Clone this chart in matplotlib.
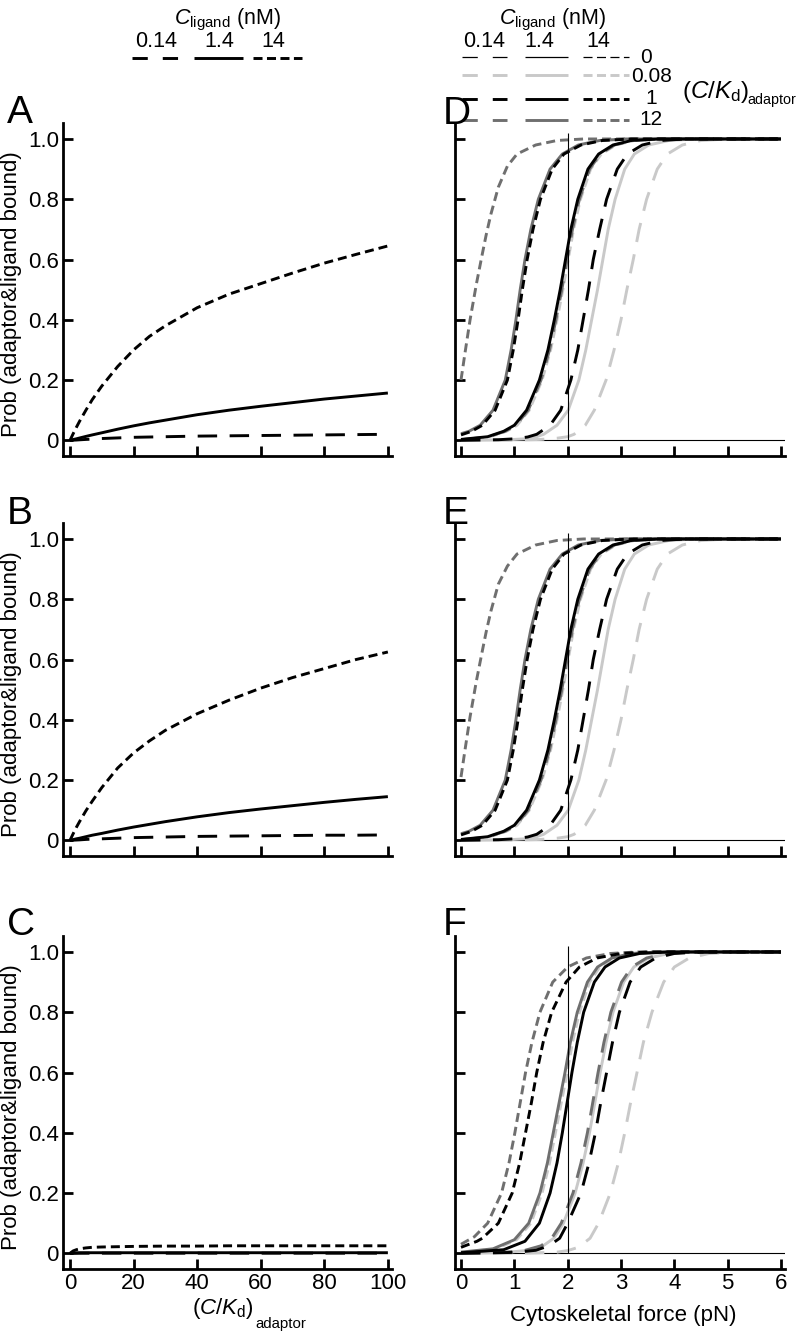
import matplotlib
matplotlib.use('Agg')
import matplotlib.pyplot as plt

plt.rcParams['font.family'] = ['Liberation Sans', 'DejaVu Sans']
plt.rcParams['mathtext.fontset'] = 'custom'
plt.rcParams['mathtext.rm'] = 'Liberation Sans'
plt.rcParams['mathtext.it'] = 'Liberation Sans:italic'
plt.rcParams['mathtext.bf'] = 'Liberation Sans:bold'
plt.rcParams['lines.scale_dashes'] = False

# ---------------- data: left panels (x = (C/Kd)_adaptor) ----------------
CK_X = [0, 1, 2, 3, 5, 7, 10, 15, 20, 25, 30, 40, 50, 60, 70, 80, 90, 100]
A_LIG014 = [0, 0.0005, 0.001, 0.0017, 0.003, 0.004, 0.006, 0.008, 0.010, 0.011, 0.012,
            0.014, 0.015, 0.016, 0.017, 0.018, 0.019, 0.020]
A_LIG1_4 = [0, 0.0027, 0.005, 0.0077, 0.013, 0.018, 0.025, 0.037, 0.048, 0.058, 0.067,
            0.085, 0.100, 0.113, 0.125, 0.137, 0.147, 0.157]
A_LIG14 = [0, 0.022, 0.043, 0.063, 0.100, 0.135, 0.180, 0.245, 0.300, 0.345, 0.380,
           0.440, 0.485, 0.520, 0.555, 0.588, 0.617, 0.645]
B_LIG014 = [0, 0.0005, 0.001, 0.0015, 0.003, 0.004, 0.005, 0.007, 0.009, 0.010, 0.011,
            0.013, 0.014, 0.015, 0.016, 0.017, 0.017, 0.018]
B_LIG1_4 = [0, 0.0025, 0.005, 0.007, 0.012, 0.017, 0.023, 0.034, 0.044, 0.053, 0.062,
            0.078, 0.092, 0.104, 0.115, 0.126, 0.136, 0.145]
B_LIG14 = [0, 0.022, 0.043, 0.062, 0.098, 0.130, 0.175, 0.240, 0.290, 0.330, 0.365,
           0.420, 0.465, 0.505, 0.540, 0.570, 0.600, 0.625]
C_LIG014 = [0, 0.0001, 0.0002, 0.0003, 0.0004, 0.0005, 0.0005, 0.0005, 0.0005, 0.0005, 0.0005,
            0.0005, 0.0005, 0.0005, 0.0005, 0.0005, 0.0005, 0.0005]
C_LIG1_4 = [0, 0.001, 0.0015, 0.002, 0.002, 0.002, 0.002, 0.002, 0.002, 0.002, 0.002,
            0.002, 0.002, 0.002, 0.002, 0.002, 0.002, 0.002]
C_LIG14 = [0, 0.008, 0.012, 0.015, 0.018, 0.020, 0.021, 0.022, 0.023, 0.0235, 0.024,
           0.024, 0.025, 0.025, 0.025, 0.025, 0.025, 0.025]

# ---------------- data: right panels (force pN, probability) ----------------
P_STD = [0.10, 0.20, 0.30, 0.40, 0.50, 0.60, 0.70, 0.80, 0.90, 0.95, 0.98, 0.995, 1.0, 1.0]

# Panel D
D_F_12_14 = [0, 0.075, 0.17, 0.29, 0.39, 0.47, 0.56, 0.70, 0.87, 1.05, 1.40, 1.80, 2.30, 6.0]
D_P_12_14 = [0.20, 0.29, 0.40, 0.52, 0.61, 0.68, 0.75, 0.84, 0.91, 0.95, 0.98, 0.995, 1.0, 1.0]
D_F_12_1_4 = [0, 0.15, 0.36, 0.60, 0.83, 0.94, 1.03, 1.11, 1.20, 1.31, 1.45, 1.67, 1.90, 2.20, 2.60, 3.10, 6.0]
D_P_12_1_4 = [0.022, 0.03, 0.05] + P_STD
D_F_1_14 = [0, 0.20, 0.40, 0.64, 0.87, 0.98, 1.07, 1.15, 1.24, 1.35, 1.49, 1.71, 1.93, 2.25, 2.65, 3.20, 6.0]
D_P_1_14 = [0.018, 0.03, 0.05] + P_STD
D_F_1_1_4 = [0, 0.5, 0.8, 1.00, 1.23, 1.47, 1.63, 1.75, 1.86, 1.96, 2.06, 2.19, 2.38, 2.58, 2.85, 3.20, 3.70, 6.0]
D_P_1_1_4 = [0.003, 0.012, 0.03, 0.05] + P_STD
D_F_12_014 = [0, 0.5, 0.83, 1.03, 1.26, 1.50, 1.66, 1.78, 1.89, 1.99, 2.09, 2.22, 2.41, 2.61, 2.88, 3.23, 3.75, 6.0]
D_P_12_014 = [0.002, 0.011, 0.03, 0.05] + P_STD
D_F_008_14 = [0, 0.5, 0.85, 1.05, 1.28, 1.52, 1.68, 1.80, 1.91, 2.01, 2.11, 2.24, 2.43, 2.63, 2.90, 3.25, 3.80, 6.0]
D_P_008_14 = [0.002, 0.010, 0.03, 0.05] + P_STD
D_F_1_014 = [0, 0.7, 1.0, 1.25, 1.42, 1.67, 1.87, 2.06, 2.19, 2.29, 2.39, 2.48, 2.60, 2.73, 2.93, 3.12, 3.40, 3.75, 4.20, 6.0]
D_P_1_014 = [0, 0.002, 0.005, 0.011, 0.02, 0.05] + P_STD
D_F_008_1_4 = [0, 0.9, 1.2, 1.4, 1.55, 1.80, 2.01, 2.21, 2.34, 2.45, 2.56, 2.66, 2.76, 2.89, 3.07, 3.25, 3.52, 3.90, 4.40, 6.0]
D_P_008_1_4 = [0, 0.002, 0.005, 0.011, 0.02, 0.05] + P_STD
D_F_008_014 = [0, 1.0, 1.5, 1.8, 2.0, 2.12, 2.33, 2.50, 2.72, 2.87, 3.00, 3.11, 3.23, 3.34, 3.48, 3.68, 3.87, 4.15, 4.50, 5.00, 6.0]
D_P_008_014 = [0, 0.0008, 0.003, 0.007, 0.012, 0.02, 0.05] + P_STD

# Panel E
E_F_12_14 = [0, 0.075, 0.17, 0.29, 0.39, 0.47, 0.56, 0.70, 0.87, 1.05, 1.40, 1.80, 2.30, 6.0]
E_P_12_14 = [0.21, 0.30, 0.41, 0.53, 0.62, 0.69, 0.76, 0.85, 0.91, 0.95, 0.98, 0.995, 1.0, 1.0]
E_F_12_1_4 = [0, 0.15, 0.36, 0.60, 0.83, 0.94, 1.03, 1.11, 1.20, 1.31, 1.45, 1.67, 1.90, 2.20, 2.60, 3.10, 6.0]
E_P_12_1_4 = [0.022, 0.03, 0.05] + P_STD
E_F_1_14 = [0, 0.20, 0.40, 0.64, 0.87, 0.98, 1.07, 1.15, 1.24, 1.35, 1.49, 1.71, 1.93, 2.25, 2.65, 3.20, 6.0]
E_P_1_14 = [0.018, 0.03, 0.05] + P_STD
E_F_1_1_4 = [0, 0.5, 0.8, 1.00, 1.23, 1.47, 1.63, 1.75, 1.86, 1.96, 2.06, 2.19, 2.38, 2.58, 2.85, 3.20, 3.70, 6.0]
E_P_1_1_4 = [0.003, 0.012, 0.03, 0.05] + P_STD
E_F_12_014 = [0, 0.5, 0.83, 1.03, 1.26, 1.50, 1.66, 1.78, 1.89, 1.99, 2.09, 2.22, 2.41, 2.61, 2.88, 3.23, 3.75, 6.0]
E_P_12_014 = [0.002, 0.011, 0.03, 0.05] + P_STD
E_F_008_14 = [0, 0.5, 0.85, 1.05, 1.28, 1.52, 1.68, 1.80, 1.91, 2.01, 2.11, 2.24, 2.43, 2.63, 2.90, 3.25, 3.80, 6.0]
E_P_008_14 = [0.002, 0.010, 0.03, 0.05] + P_STD
E_F_1_014 = [0, 0.7, 1.0, 1.25, 1.42, 1.67, 1.87, 2.06, 2.19, 2.29, 2.39, 2.48, 2.60, 2.73, 2.93, 3.12, 3.40, 3.75, 4.20, 6.0]
E_P_1_014 = [0, 0.002, 0.005, 0.011, 0.02, 0.05] + P_STD
E_F_008_1_4 = [0, 0.9, 1.2, 1.4, 1.55, 1.80, 2.01, 2.21, 2.34, 2.45, 2.56, 2.66, 2.76, 2.89, 3.07, 3.25, 3.52, 3.90, 4.40, 6.0]
E_P_008_1_4 = [0, 0.002, 0.005, 0.011, 0.02, 0.05] + P_STD
E_F_008_014 = [0, 1.0, 1.5, 1.8, 2.0, 2.12, 2.33, 2.50, 2.72, 2.87, 3.00, 3.11, 3.23, 3.34, 3.48, 3.68, 3.87, 4.15, 4.50, 5.00, 6.0]
E_P_008_014 = [0, 0.0008, 0.003, 0.007, 0.012, 0.02, 0.05] + P_STD

# Panel F
F_F_12_14 = [0, 0.25, 0.50, 0.76, 0.90, 1.01, 1.11, 1.21, 1.33, 1.48, 1.72, 2.00, 2.35, 2.80, 3.30, 6.0]
F_P_12_14 = [0.03, 0.055] + P_STD
F_F_1_14 = [0, 0.30, 0.40, 0.70, 0.96, 1.10, 1.21, 1.32, 1.42, 1.54, 1.70, 1.97, 2.22, 2.55, 3.00, 3.50, 6.0]
F_P_1_14 = [0.02, 0.04, 0.05] + P_STD
F_F_12_1_4 = [0, 0.6, 1.0, 1.27, 1.48, 1.62, 1.73, 1.84, 1.95, 2.05, 2.18, 2.37, 2.56, 2.83, 3.20, 3.70, 6.0]
F_P_12_1_4 = [0.004, 0.015, 0.045] + P_STD
F_F_008_14 = [0, 0.65, 1.04, 1.31, 1.52, 1.66, 1.77, 1.88, 1.99, 2.09, 2.22, 2.41, 2.60, 2.87, 3.25, 3.75, 6.0]
F_P_008_14 = [0.003, 0.014, 0.045] + P_STD
F_F_1_1_4 = [0, 0.8, 1.2, 1.47, 1.67, 1.80, 1.90, 1.99, 2.08, 2.18, 2.30, 2.50, 2.70, 2.97, 3.35, 3.90, 6.0]
F_P_1_1_4 = [0.002, 0.012, 0.04] + P_STD
F_F_12_014 = [0, 0.8, 1.2, 1.50, 1.70, 1.88, 2.10, 2.25, 2.37, 2.47, 2.57, 2.68, 2.81, 3.01, 3.20, 3.48, 3.85, 4.30, 6.0]
F_P_12_014 = [0, 0.003, 0.01, 0.025, 0.05] + P_STD
F_F_008_1_4 = [0, 0.85, 1.25, 1.54, 1.74, 1.92, 2.14, 2.29, 2.41, 2.51, 2.61, 2.72, 2.85, 3.05, 3.24, 3.52, 3.90, 4.35, 6.0]
F_P_008_1_4 = [0, 0.003, 0.01, 0.025, 0.05] + P_STD
F_F_1_014 = [0, 1.0, 1.4, 1.65, 1.85, 2.00, 2.25, 2.40, 2.52, 2.62, 2.73, 2.84, 2.97, 3.17, 3.37, 3.65, 4.00, 4.50, 6.0]
F_P_1_014 = [0, 0.003, 0.01, 0.025, 0.05] + P_STD
F_F_008_014 = [0, 1.3, 1.8, 2.0, 2.2, 2.42, 2.58, 2.80, 2.95, 3.07, 3.18, 3.30, 3.42, 3.58, 3.80, 4.00, 4.28, 4.65, 5.20, 6.0]
F_P_008_014 = [0, 0.001, 0.004, 0.009, 0.02, 0.05] + P_STD

LIGANDS = ['0.14', '1.4', '14']
CK_LEVELS = ['0', '0.08', '1', '12']
Y_TICKS = [0, 0.2, 0.4, 0.6, 0.8, 1.0]
Y_TICKLABELS = ['0', '0.2', '0.4', '0.6', '0.8', '1.0']
CK_TICKS = [0, 20, 40, 60, 80, 100]
FORCE_TICKS = [0, 1, 2, 3, 4, 5, 6]
FORCE_REF = 2.0

# ---------------- styles ----------------
LONG = (0, (14, 9))
SHORT = (0, (6.5, 3.6))
LS = {'0.14': LONG, '1.4': '-', '14': SHORT}
COL = {'0': 'black', '0.08': '#c9c9c9', '1': 'black', '12': '#6f6f6f'}
ZO = {'0': 5, '0.08': 2, '1': 4, '12': 3}
LW = 2.1

W, H = 796, 1332
fig = plt.figure(figsize=(W / 100, H / 100), dpi=100)


def add_ax(l, t, r, b):
    return fig.add_axes([l / W, 1 - b / H, (r - l) / W, (b - t) / H])


def style(ax):
    for s in ['top', 'right']:
        ax.spines[s].set_visible(False)
    for s in ['left', 'bottom']:
        ax.spines[s].set_linewidth(2.0)
    ax.tick_params(direction='in', length=7, width=2, labelsize=16, pad=3)
    ax.set_ylim(-0.052, 1.053)
    ax.set_yticks(Y_TICKS)


ROWS = [(123, 456), (523, 856), (936, 1269)]
left_data = [
    (A_LIG014, A_LIG1_4, A_LIG14),
    (B_LIG014, B_LIG1_4, B_LIG14),
    (C_LIG014, C_LIG1_4, C_LIG14),
]
for i, (t, b) in enumerate(ROWS):
    ax = add_ax(63, t, 392, b)
    style(ax)
    for lig, ys in zip(LIGANDS, left_data[i]):
        ax.plot(CK_X, ys, color='black', lw=LW, linestyle=LS[lig], solid_capstyle='butt',
                dash_capstyle='butt')
    ax.set_xlim(-2.2, 101.3)
    ax.set_xticks(CK_TICKS)
    ax.set_yticklabels(Y_TICKLABELS)
    ax.set_ylabel('Prob (adaptor&ligand bound)', fontsize=16)
    ax.yaxis.set_label_coords(-0.125, 0.487)
    if i < 2:
        ax.set_xticklabels([])
    else:
        ax.set_xticklabels([str(v) for v in CK_TICKS])

right_data = [
    [('0.08', '0.14', D_F_008_014, D_P_008_014), ('0.08', '1.4', D_F_008_1_4, D_P_008_1_4),
     ('0.08', '14', D_F_008_14, D_P_008_14), ('12', '0.14', D_F_12_014, D_P_12_014),
     ('12', '1.4', D_F_12_1_4, D_P_12_1_4), ('12', '14', D_F_12_14, D_P_12_14),
     ('1', '0.14', D_F_1_014, D_P_1_014), ('1', '1.4', D_F_1_1_4, D_P_1_1_4),
     ('1', '14', D_F_1_14, D_P_1_14)],
    [('0.08', '0.14', E_F_008_014, E_P_008_014), ('0.08', '1.4', E_F_008_1_4, E_P_008_1_4),
     ('0.08', '14', E_F_008_14, E_P_008_14), ('12', '0.14', E_F_12_014, E_P_12_014),
     ('12', '1.4', E_F_12_1_4, E_P_12_1_4), ('12', '14', E_F_12_14, E_P_12_14),
     ('1', '0.14', E_F_1_014, E_P_1_014), ('1', '1.4', E_F_1_1_4, E_P_1_1_4),
     ('1', '14', E_F_1_14, E_P_1_14)],
    [('0.08', '0.14', F_F_008_014, F_P_008_014), ('0.08', '1.4', F_F_008_1_4, F_P_008_1_4),
     ('0.08', '14', F_F_008_14, F_P_008_14), ('12', '0.14', F_F_12_014, F_P_12_014),
     ('12', '1.4', F_F_12_1_4, F_P_12_1_4), ('12', '14', F_F_12_14, F_P_12_14),
     ('1', '0.14', F_F_1_014, F_P_1_014), ('1', '1.4', F_F_1_1_4, F_P_1_1_4),
     ('1', '14', F_F_1_14, F_P_1_14)],
]
for i, (t, b) in enumerate(ROWS):
    ax = add_ax(455, t, 785, b)
    style(ax)
    ax.axhline(0, color='black', lw=0.8, zorder=1)
    ax.vlines(FORCE_REF, 0, 1.02, color='black', lw=0.8, zorder=6)
    for ck, lig, fx, py in right_data[i]:
        ax.plot(fx, py, color=COL[ck], lw=LW, linestyle=LS[lig], zorder=ZO[ck],
                solid_capstyle='butt', dash_capstyle='butt')
    ax.set_xlim(-0.1125, 6.075)
    ax.set_xticks(FORCE_TICKS)
    ax.set_yticklabels([])
    if i < 2:
        ax.set_xticklabels([])
    else:
        ax.set_xticklabels([str(v) for v in FORCE_TICKS])

# ---------------- overlay: legends, labels, panel letters ----------------
ov = fig.add_axes([0, 0, 1, 1])
ov.set_xlim(0, W)
ov.set_ylim(H, 0)
ov.set_axis_off()
ov.patch.set_visible(False)

clig = r'$\mathit{C}_{\mathrm{ligand}}$ (nM)'
ov.text(228, 24, clig, fontsize=15.5, ha='center', va='baseline')
ov.text(553, 24, clig, fontsize=15.5, ha='center', va='baseline')
for cx, lab in zip([156, 219, 273], LIGANDS):
    ov.text(cx, 47, lab, fontsize=15.5, ha='center', va='baseline')
for cx, lab in zip([484, 539, 598], LIGANDS):
    ov.text(cx, 47, lab, fontsize=15.5, ha='center', va='baseline')

LEG_LS = {'0.14': (0, (11, 10.8)), '1.4': '-', '14': (0, (6.5, 3.2))}
left_seg = {'0.14': (132, 178), '1.4': (194, 243), '14': (253, 302)}
for lig in LIGANDS:
    x0, x1 = left_seg[lig]
    ov.plot([x0, x1], [58, 58], color='black', lw=LW, linestyle=LEG_LS[lig],
            solid_capstyle='butt', dash_capstyle='butt')

right_seg = {'0.14': (462, 507), '1.4': (525, 568), '14': (583, 629)}
row_y = {'0': 57, '0.08': 75, '1': 99, '12': 120}
row_lw = {'0': 0.9, '0.08': LW, '1': LW, '12': LW}
row_lab = {'0': (640, 63), '0.08': (631, 82), '1': (645, 104), '12': (639, 125)}
for ck in CK_LEVELS:
    for lig in LIGANDS:
        x0, x1 = right_seg[lig]
        ov.plot([x0, x1], [row_y[ck], row_y[ck]], color=COL[ck], lw=row_lw[ck],
                linestyle=LEG_LS[lig], solid_capstyle='butt', dash_capstyle='butt')
    lx, ly = row_lab[ck]
    ov.text(lx, ly, ck, fontsize=15, ha='left', va='baseline')
ov.text(682, 98, r'$(\mathit{C}/\mathit{K}_{\mathrm{d}})$', fontsize=17.5,
        ha='left', va='baseline')
ov.text(747, 104, 'adaptor', fontsize=10.3, ha='left', va='baseline')

for lab, x, y in [('A', 7, 123), ('B', 7, 524), ('C', 7, 935),
                  ('D', 443, 124), ('E', 443, 524), ('F', 443, 935)]:
    ov.text(x, y, lab, fontsize=28, ha='left', va='baseline')

ov.text(192, 1314, r'$(\mathit{C}/\mathit{K}_{\mathrm{d}})$', fontsize=16,
        ha='left', va='baseline')
ov.text(255, 1328, 'adaptor', fontsize=10.8, ha='left', va='baseline')
ov.text(623, 1321, 'Cytoskeletal force (pN)', fontsize=16, ha='center', va='baseline')

fig.savefig('out.png', dpi=100)
